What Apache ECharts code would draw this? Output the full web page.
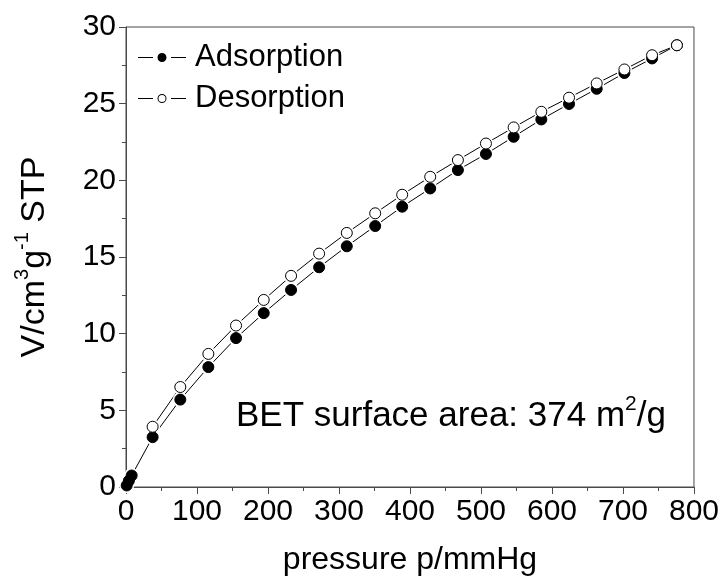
<!DOCTYPE html>
<html>
<head>
<meta charset="utf-8">
<script src="https://cdn.jsdelivr.net/npm/echarts@6/dist/echarts.min.js"></script>
<style>
  html, body { margin: 0; padding: 0; background: #ffffff; }
  #chart { width: 722px; height: 584px; }
</style>
</head>
<body>
<div id="chart"></div>
<script>
// N2 isotherm: volume adsorbed vs. pressure
const adsPressure = [1, 4, 8, 37.5, 76.5, 116, 155, 194, 232.5, 272, 311, 351, 389, 428.5, 467.5, 507, 546, 585, 624, 663, 702, 741, 776];
const adsVolume   = [0.1, 0.4, 0.75, 3.25, 5.7, 7.82, 9.71, 11.34, 12.85, 14.33, 15.7, 17.02, 18.28, 19.47, 20.67, 21.72, 22.84, 23.97, 24.98, 25.97, 27.0, 27.95, 28.81];
const desPressure = [37.5, 76.5, 116, 155, 194, 232.5, 272, 311, 351, 389, 428.5, 467.5, 507, 546, 585, 624, 663, 702, 741, 776];
const desVolume   = [3.93, 6.52, 8.68, 10.53, 12.2, 13.77, 15.22, 16.57, 17.85, 19.06, 20.23, 21.32, 22.4, 23.45, 24.47, 25.39, 26.32, 27.23, 28.16, 28.81];
const xTicks = { min: 0, max: 800, interval: 100 };
const yTicks = { min: 0, max: 30, interval: 5 };

const FONT = '"Liberation Sans", Arial, sans-serif';
const pair = (xs, ys) => xs.map((x, i) => [x, ys[i]]);
const adsData = pair(adsPressure, adsVolume);
const desData = pair(desPressure, desVolume);

// legend glyphs: line – marker – line, with small gaps around the marker
const ICON_FILLED = 'path://M0,4H15V5H0Z M33,4H48V5H33Z M19.5,4.5A4.5,4.5 0 1,0 28.5,4.5A4.5,4.5 0 1,0 19.5,4.5Z';
const ICON_HOLLOW = 'path://M0,4H15V5H0Z M33,4H48V5H33Z M19.5,4.5A4.5,4.5 0 1,0 28.5,4.5A4.5,4.5 0 1,0 19.5,4.5Z M20.5,4.5A3.5,3.5 0 1,1 27.5,4.5A3.5,3.5 0 1,1 20.5,4.5Z';

const chart = echarts.init(document.getElementById('chart'), null, { renderer: 'canvas' });

const axisLine = { show: true, lineStyle: { color: '#4a4a4a', width: 1 } };
const tickStyle = { color: '#4a4a4a' };

// connecting lines (drawn first), white halos that open a gap, then markers
const lineSeries = (name, data) => ({
  name, type: 'line', data, showSymbol: false, symbol: 'none',
  lineStyle: { color: '#000', width: 1 }, itemStyle: { color: '#000' }, z: 1
});
const haloSeries = (name, data) => ({
  name, type: 'scatter', data, symbol: 'circle', symbolSize: 15,
  itemStyle: { color: '#ffffff', opacity: 1 }, z: 2
});

chart.setOption({
  backgroundColor: '#ffffff',
  animation: false,
  grid: {
    left: 126, right: 28, top: 27, bottom: 97,
    show: true, borderColor: '#4a4a4a', borderWidth: 1, backgroundColor: 'transparent'
  },
  legend: {
    left: 133, top: 37,
    orient: 'vertical',
    itemWidth: 48, itemHeight: 9, itemGap: 10,
    textStyle: { fontFamily: FONT, fontSize: 31, color: '#000', padding: [0, 0, 0, 4] },
    data: [
      { name: 'Adsorption', icon: ICON_FILLED, itemStyle: { color: '#000', borderWidth: 0 } },
      { name: 'Desorption', icon: ICON_HOLLOW, itemStyle: { color: '#000', borderWidth: 0 } }
    ]
  },
  xAxis: {
    type: 'value',
    min: xTicks.min, max: xTicks.max, interval: xTicks.interval,
    name: 'pressure p/mmHg',
    nameLocation: 'middle', nameGap: 57,
    nameTextStyle: { fontFamily: FONT, fontSize: 32, color: '#000' },
    axisLine: axisLine,
    axisTick: { show: true, inside: false, length: 7, lineStyle: tickStyle },
    minorTick: { show: true, splitNumber: 2, length: 4, lineStyle: tickStyle },
    axisLabel: { fontFamily: FONT, fontSize: 30, color: '#000', margin: 10 },
    splitLine: { show: false }
  },
  yAxis: {
    type: 'value',
    min: yTicks.min, max: yTicks.max, interval: yTicks.interval,
    name: '{a|V/cm}{s|3}{a|g}{s|-1}{a| STP}',
    nameLocation: 'middle', nameGap: 74, nameRotate: 90,
    nameTextStyle: {
      fontFamily: FONT, color: '#000',
      rich: {
        a: { fontFamily: FONT, fontSize: 34, color: '#000', lineHeight: 40, verticalAlign: 'bottom' },
        s: { fontFamily: FONT, fontSize: 20, color: '#000', lineHeight: 40, verticalAlign: 'top' }
      }
    },
    axisLine: axisLine,
    axisTick: { show: true, inside: false, length: 7, lineStyle: tickStyle },
    minorTick: { show: true, splitNumber: 2, length: 4, lineStyle: tickStyle },
    axisLabel: { fontFamily: FONT, fontSize: 30, color: '#000', margin: 10 },
    splitLine: { show: false }
  },
  series: [
    lineSeries('Adsorption', adsData),
    lineSeries('Desorption', desData),
    haloSeries('Adsorption', adsData),
    haloSeries('Desorption', desData),
    {
      name: 'Adsorption',
      type: 'scatter',
      data: adsData,
      symbol: 'circle', symbolSize: 11,
      itemStyle: { color: '#000', borderColor: '#000', borderWidth: 1, opacity: 1 },
      z: 3
    },
    {
      name: 'Desorption',
      type: 'scatter',
      data: desData,
      symbol: 'circle', symbolSize: 11,
      itemStyle: { color: '#ffffff', borderColor: '#000', borderWidth: 1, opacity: 1 },
      z: 4
    }
  ],
  graphic: [
    {
      type: 'text',
      left: 236, top: 394,
      style: {
        text: '{a|BET surface area: 374 m}{s|2}{a|/g}',
        rich: {
          a: { fontFamily: FONT, fontSize: 35, fill: '#000', lineHeight: 40, verticalAlign: 'bottom' },
          s: { fontFamily: FONT, fontSize: 21, fill: '#000', lineHeight: 40, verticalAlign: 'top' }
        }
      }
    }
  ]
});
</script>
</body>
</html>
